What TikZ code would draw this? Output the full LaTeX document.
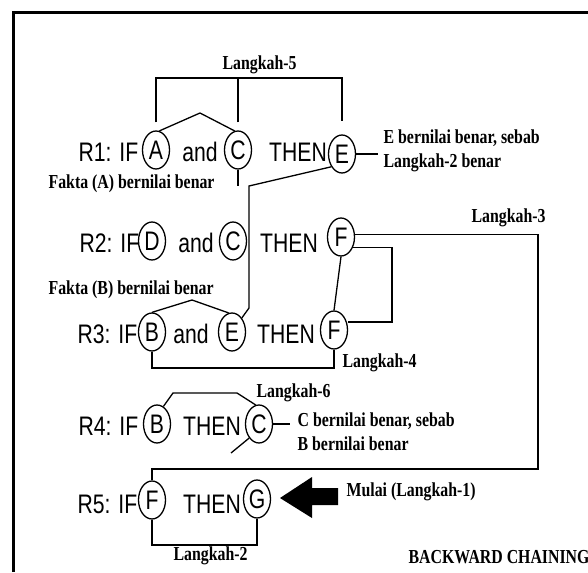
\documentclass[tikz,border=0pt]{standalone}
\usepackage{fontspec}
\usepackage{tikz}
\usetikzlibrary{shapes.geometric}
\newfontfamily\rulefont{Liberation Sans}[FakeStretch=0.79]
\newfontfamily\notefont{Liberation Serif}[FakeStretch=0.8]

\begin{document}
\begin{tikzpicture}[x=0.5pt,y=-0.5pt,line width=0.65pt,
  var/.style={draw,ellipse,inner sep=0pt,minimum width=13.5pt,minimum height=19pt,font=\rulefont\fontsize{13.4}{15}\selectfont},
  rl/.style={anchor=base,inner sep=0pt,font=\rulefont\fontsize{13.4}{15}\selectfont},
  note/.style={anchor=base west,inner sep=0pt,font=\notefont\bfseries\fontsize{9.9}{12}\selectfont},
  notes/.style={anchor=west,align=left,inner sep=0pt,font=\notefont\bfseries\fontsize{9.9}{12}\selectfont}]
\useasboundingbox (0,0) rectangle (588,572);
\draw[line width=1.5pt] (13,572) -- (13,13) -- (588,13);

      \draw (78,162) node[rl,anchor=base west] (r1) {R1: IF};
  \draw (156,150) node[var] (a1) {A};
  \draw (200,162) node[rl] (and1) {and};
  \draw (238,150) node[var] (c1) {C};
  \draw (298,162) node[rl] (then1) {THEN};
  \draw (342,154) node[var] (e1) {E};

      \draw (79,252) node[rl,anchor=base west] (r2) {R2: IF};
  \draw (152,241) node[var] (d2) {D};
  \draw (196,252) node[rl] (and2) {and};
  \draw (233,241) node[var] (c2) {C};
  \draw (289,252) node[rl] (then2) {THEN};
  \draw (341,237) node[var] (f2) {F};

      \draw (77,343) node[rl,anchor=base west] (r3) {R3: IF};
  \draw (152,332) node[var] (b3) {B};
  \draw (191,343) node[rl] (and3) {and};
  \draw (232,332) node[var] (e3) {E};
  \draw (286,343) node[rl] (then3) {THEN};
  \draw (334,330) node[var] (f3) {F};

      \draw (78,435) node[rl,anchor=base west] (r4) {R4: IF};
  \draw (157,424) node[var] (b4) {B};
  \draw (212,435) node[rl] (then4) {THEN};
  \draw (259,424) node[var] (c4) {C};

      \draw (77,513) node[rl,anchor=base west] (r5) {R5: IF};
  \draw (152,500) node[var] (f5) {F};
  \draw (212,513) node[rl] (then5) {THEN};
  \draw (257,499) node[var] (g5) {G};

  \draw (222,70) node[note] (step5) {Langkah-5};
  \draw (383,151) node[notes] (ne1) {E bernilai benar, sebab\\Langkah-2 benar};
  \draw (48,189) node[note] (faktaA) {Fakta (A) bernilai benar};
  \draw (471,222) node[note] (step3) {Langkah-3};
  \draw (48,294) node[note] (faktaB) {Fakta (B) bernilai benar};
  \draw (342,367) node[note] (step4) {Langkah-4};
  \draw (256,397) node[note] (step6) {Langkah-6};
  \draw (297,432) node[notes] (nc4) {C bernilai benar, sebab\\B bernilai benar};
  \draw (346,496) node[note] (mulai) {Mulai (Langkah-1)};
  \draw (173,560) node[note] (step2) {Langkah-2};
  \draw (408,563) node[note] (title) {BACKWARD CHAINING};

  \coordinate (l5) at (236,78);
  \coordinate (p1) at (200,113);
  \coordinate (s1) at (238,186);
  \coordinate (k1) at (249,186);
  \coordinate (k2) at (249,308);
  \coordinate (k3) at (538,469);
  \coordinate (k4) at (392,322);
  \coordinate (p2) at (192,300);
  \coordinate (k5) at (152,368);
  \coordinate (p3) at (173,393);
  \coordinate (p4) at (237,393);
  \coordinate (s3) at (231,453);
  \coordinate (k6) at (152,545);

     \draw ([yshift=4pt]a1.north) |- (l5) -| ([yshift=6.5pt]e1.north);
     \draw ([yshift=4pt]c1.north) -- (c1.north |- l5);
     \draw (a1.80) -- (p1) -- (c1.100);
     \draw (c1.south) -- (s1);
     \draw (e1.east) -- ([xshift=-2.5pt]ne1.west |- e1.east);
     \draw (e1.230) -- (k1) -- (k2) -- (e3.55);
     \draw (f2.10) -| (k3) -| (f5.north);
     \draw (f2.-40) -| (k4) -- (k4 -| f3.east);
     \draw (f2.south) -- (f3.north);
     \draw (b3.north) -- (p2) -- (e3.100);
     \draw (b3.south) -- (k5) -| (f3.south);
     \draw (b4.70) -- (p3) -- (p4) -- (c4.100);
     \draw (c4.235) -- (s3);
     \draw (c4.east) -- ([xshift=-3.5pt]nc4.west |- c4.east);
     \draw (f5.south) -- (k6) -| (g5.south);

  \fill (280,498) -- (312,477) -- (312,488) -- (338,488) -- (338,505) -- (312,505) -- (312,518) -- cycle;
\end{tikzpicture}
\end{document}
